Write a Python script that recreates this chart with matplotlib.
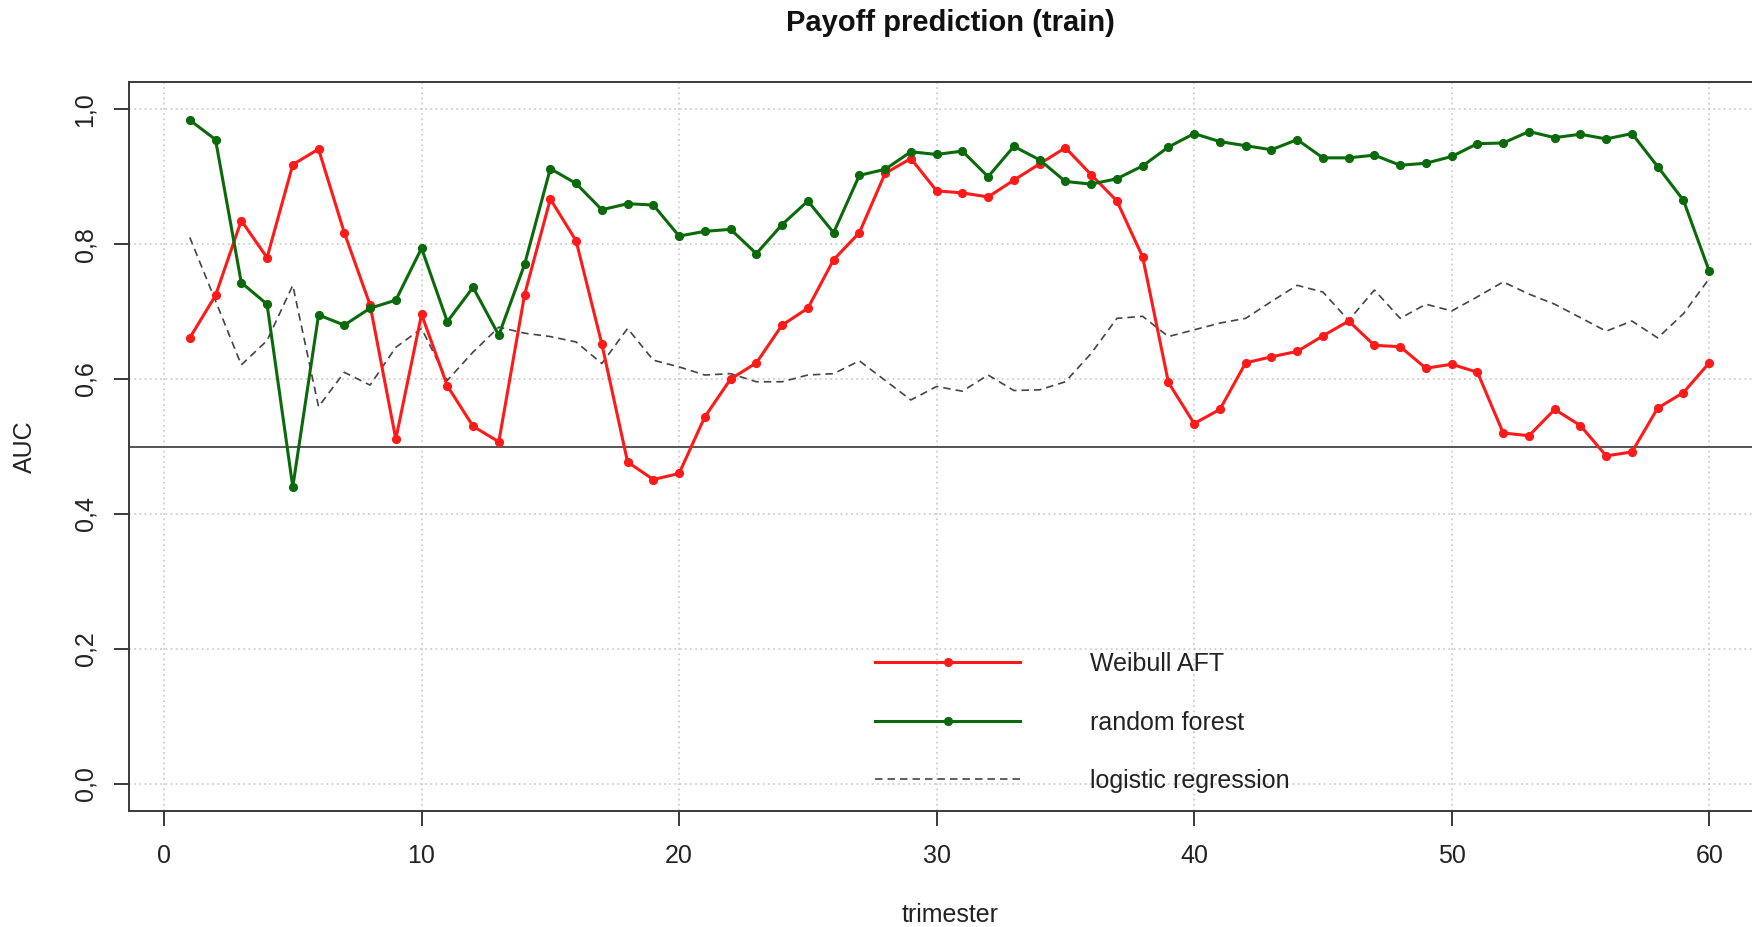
import numpy as np
import matplotlib
matplotlib.use("Agg")
import matplotlib.pyplot as plt
from matplotlib.ticker import FixedLocator, FuncFormatter

plt.rcParams['font.family'] = ['Liberation Sans', 'DejaVu Sans']

trimester = np.arange(1, 61)

weibull_aft = [0.661, 0.724, 0.835, 0.780, 0.918, 0.941, 0.817, 0.710, 0.511, 0.696,
               0.590, 0.530, 0.507, 0.725, 0.867, 0.805, 0.652, 0.477, 0.451, 0.460,
               0.544, 0.600, 0.624, 0.680, 0.705, 0.777, 0.817, 0.905, 0.927, 0.879,
               0.876, 0.870, 0.895, 0.919, 0.943, 0.903, 0.864, 0.781, 0.595, 0.534,
               0.555, 0.624, 0.633, 0.641, 0.664, 0.686, 0.650, 0.648, 0.616, 0.622,
               0.610, 0.520, 0.516, 0.555, 0.531, 0.486, 0.492, 0.557, 0.580, 0.624]

random_forest = [0.984, 0.955, 0.743, 0.711, 0.440, 0.695, 0.680, 0.705, 0.717, 0.794,
                 0.685, 0.736, 0.665, 0.770, 0.912, 0.890, 0.851, 0.860, 0.858, 0.812,
                 0.819, 0.822, 0.786, 0.829, 0.864, 0.817, 0.902, 0.911, 0.937, 0.933,
                 0.938, 0.900, 0.945, 0.925, 0.893, 0.889, 0.897, 0.916, 0.944, 0.964,
                 0.952, 0.946, 0.940, 0.955, 0.928, 0.928, 0.932, 0.917, 0.920, 0.930,
                 0.949, 0.950, 0.967, 0.958, 0.963, 0.956, 0.964, 0.915, 0.865, 0.760]

logistic_reg = [0.810, 0.716, 0.621, 0.657, 0.739, 0.559, 0.610, 0.591, 0.647, 0.675,
                0.598, 0.640, 0.677, 0.668, 0.663, 0.655, 0.623, 0.675, 0.628, 0.618,
                0.606, 0.608, 0.596, 0.596, 0.606, 0.608, 0.627, 0.598, 0.569, 0.589,
                0.582, 0.606, 0.583, 0.584, 0.596, 0.638, 0.690, 0.693, 0.663, 0.673,
                0.683, 0.690, 0.715, 0.739, 0.729, 0.687, 0.732, 0.690, 0.711, 0.701,
                0.722, 0.744, 0.726, 0.711, 0.691, 0.671, 0.686, 0.661, 0.697, 0.749]

x_ticks = [0, 10, 20, 30, 40, 50, 60]
y_ticks = [0.0, 0.2, 0.4, 0.6, 0.8, 1.0]

W, H = 1752, 927
fig = plt.figure(figsize=(W / 100, H / 100), dpi=100)
# plot box runs past the right edge of the canvas
ax = fig.add_axes([129 / W, 1 - 810.7 / H, (1770 - 129) / W, (810.7 - 82.3) / H])

ax.set_xlim(-1.36, 62.36)
ax.set_ylim(-0.04, 1.04)

# dotted reference grid
for gx in x_ticks:
    ax.axvline(gx, color='#c8c8c8', lw=1.1, ls=(0, (1.2, 2.2)), zorder=0)
for gy in y_ticks:
    ax.axhline(gy, color='#c8c8c8', lw=1.1, ls=(0, (1.2, 2.2)), zorder=0)
ax.axhline(0.5, color='#555555', lw=1.4, zorder=1)

ax.plot(trimester, logistic_reg, color='#444444', lw=1.2, ls=(0, (4.5, 3)),
        label='logistic regression', zorder=2)
ax.plot(trimester, weibull_aft, color='#ff1a1a', lw=2.2, marker='o', ms=5.6,
        label='Weibull AFT', zorder=3)
ax.plot(trimester, random_forest, color='#0a6a0a', lw=2.2, marker='o', ms=5.6,
        label='random forest', zorder=4)

for side in ['top', 'bottom', 'left', 'right']:
    ax.spines[side].set_color('#3a3a3a')
    ax.spines[side].set_linewidth(1.4)

ax.xaxis.set_major_locator(FixedLocator(x_ticks))
ax.yaxis.set_major_locator(FixedLocator(y_ticks))
ax.yaxis.set_major_formatter(FuncFormatter(lambda v, p: f"{v:.1f}".replace('.', ',')))
ax.tick_params(axis='both', length=11, width=1.4, color='#3a3a3a',
               labelsize=18, labelcolor='#222222')
ax.tick_params(axis='x', pad=13)
ax.tick_params(axis='y', pad=12, labelrotation=90)
for lab in ax.get_yticklabels():
    lab.set_verticalalignment('center')

handles, labels = ax.get_legend_handles_labels()
order = [1, 2, 0]
leg = ax.legend([handles[i] for i in order], [labels[i] for i in order],
                loc='upper left', bbox_to_anchor=(875 / W, 1 - 652 / H),
                bbox_transform=fig.transFigure, frameon=False, fontsize=18,
                handlelength=5.8, handletextpad=2.8, labelspacing=1.38,
                borderpad=0, borderaxespad=0, numpoints=1)
for txt in leg.get_texts():
    txt.set_color('#222222')

fig.text(950 / W, 1 - 23 / H, 'Payoff prediction (train)', ha='center', va='center',
         fontsize=21, fontweight='bold', color='#111111')
fig.text(950 / W, 1 - 915 / H, 'trimester', ha='center', va='center',
         fontsize=18, color='#222222')
fig.text(25 / W, 1 - 447 / H, 'AUC', ha='center', va='center', rotation=90,
         fontsize=18, color='#222222')

fig.savefig('out.png', dpi=100)
